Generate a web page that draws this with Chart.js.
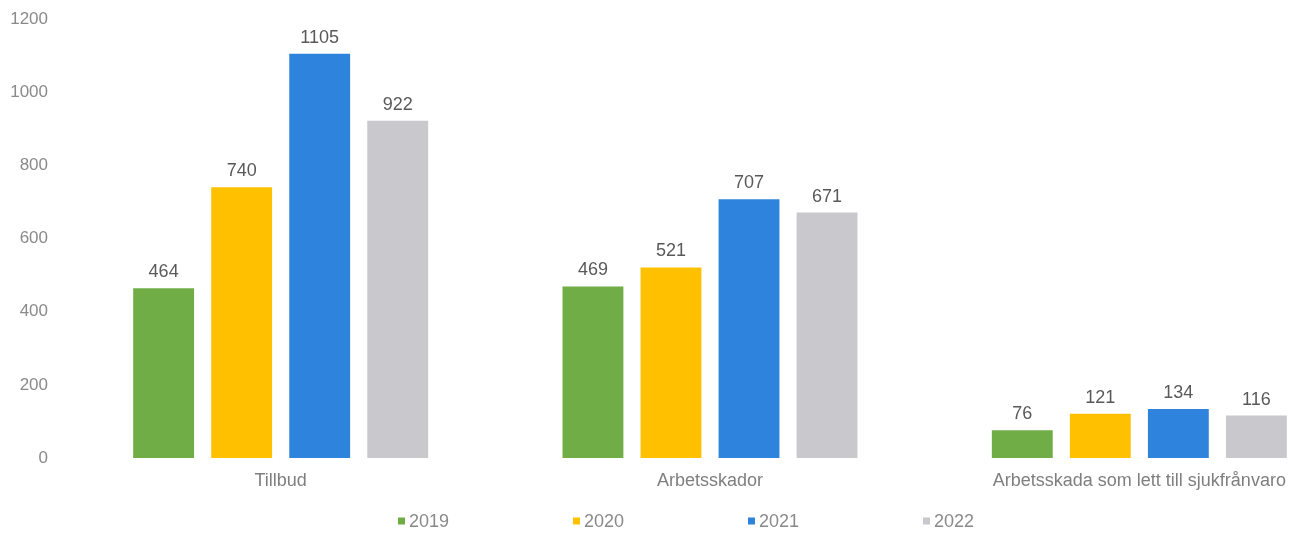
<!DOCTYPE html>
<html>
<head>
<meta charset="utf-8">
<script src="https://cdn.jsdelivr.net/npm/chart.js@4"></script>
<style>
  html, body { margin: 0; padding: 0; background: #fff; overflow: hidden; }
  #wrap { width: 1298px; height: 535px; overflow: hidden; }
</style>
</head>
<body>
<div id="wrap"><canvas id="myChart" width="1372" height="535"></canvas></div>
<script>
const categories = ['Tillbud', 'Arbetsskador', 'Arbetsskada som lett till sjukfrånvaro'];
const years = ['2019', '2020', '2021', '2022'];
const values2019 = [464, 469, 76];
const values2020 = [740, 521, 121];
const values2021 = [1105, 707, 134];
const values2022 = [922, 671, 116];
const yTicks = [0, 200, 400, 600, 800, 1000, 1200];

const colors = ['#70ad47', '#ffc000', '#2e83dc', '#c8c8cd'];
const series = [values2019, values2020, values2021, values2022];

const FONT = 'Liberation Sans, Arial, sans-serif';

// value labels above each bar
const valueLabels = {
    id: 'valueLabels',
    afterDatasetsDraw(chart) {
        const ctx = chart.ctx;
        ctx.save();
        ctx.font = '18px ' + FONT;
        ctx.fillStyle = '#595959';
        ctx.textAlign = 'center';
        ctx.textBaseline = 'alphabetic';
        chart.data.datasets.forEach((ds, i) => {
            chart.getDatasetMeta(i).data.forEach((bar, j) => {
                ctx.fillText(String(ds.data[j]), bar.x, bar.y - 11);
            });
        });
        ctx.restore();
    }
};

// legend drawn by hand so the wide spacing can be matched
const spacedLegend = {
    id: 'spacedLegend',
    afterDraw(chart) {
        const ctx = chart.ctx;
        const pitch = 175;
        const box = 7;
        const gap = 4;
        ctx.save();
        ctx.font = '18px ' + FONT;
        ctx.textBaseline = 'middle';
        const sets = chart.data.datasets;
        const lastW = box + gap + ctx.measureText(sets[sets.length - 1].label).width;
        const total = pitch * (sets.length - 1) + lastW;
        let x = chart.width / 2 - total / 2;
        const y = 521;
        sets.forEach(ds => {
            ctx.fillStyle = ds.backgroundColor;
            ctx.fillRect(x, y - box / 2, box, box);
            ctx.fillStyle = '#8a8a8a';
            ctx.fillText(ds.label, x + box + gap, y + 1);
            x += pitch;
        });
        ctx.restore();
    }
};

const ctx = document.getElementById('myChart').getContext('2d');
new Chart(ctx, {
    type: 'bar',
    data: {
        labels: categories,
        datasets: years.map((yr, i) => ({
            label: yr,
            data: series[i],
            backgroundColor: colors[i],
            categoryPercentage: 0.727,
            barPercentage: 0.78
        }))
    },
    options: {
        responsive: false,
        animation: false,
        layout: { padding: { left: 10, right: 18, top: 19, bottom: 42 } },
        plugins: {
            legend: { display: false },
            tooltip: { enabled: false }
        },
        scales: {
            x: {
                grid: { display: false, drawTicks: false },
                border: { display: false },
                ticks: {
                    color: '#7f7f7f',
                    font: { family: FONT, size: 18 },
                    padding: 12,
                    maxRotation: 0,
                    autoSkip: false
                },
                afterFit(s) {
                    s.height = 35;
                    s.paddingLeft = 0;
                    s.paddingRight = 0;
                }
            },
            y: {
                min: 0,
                max: 1200,
                grid: { display: false, drawTicks: false },
                border: { display: false },
                afterBuildTicks(s) { s.ticks = yTicks.map(v => ({ value: v })); },
                ticks: {
                    color: '#8a8a8a',
                    font: { family: FONT, size: 17 },
                    padding: 18,
                    callback: v => String(v)
                },
                afterFit(s) {
                    s.width = 56;
                    s.paddingTop = 0;
                    s.paddingBottom = 0;
                }
            }
        }
    },
    plugins: [valueLabels, spacedLegend]
});
</script>
</body>
</html>
